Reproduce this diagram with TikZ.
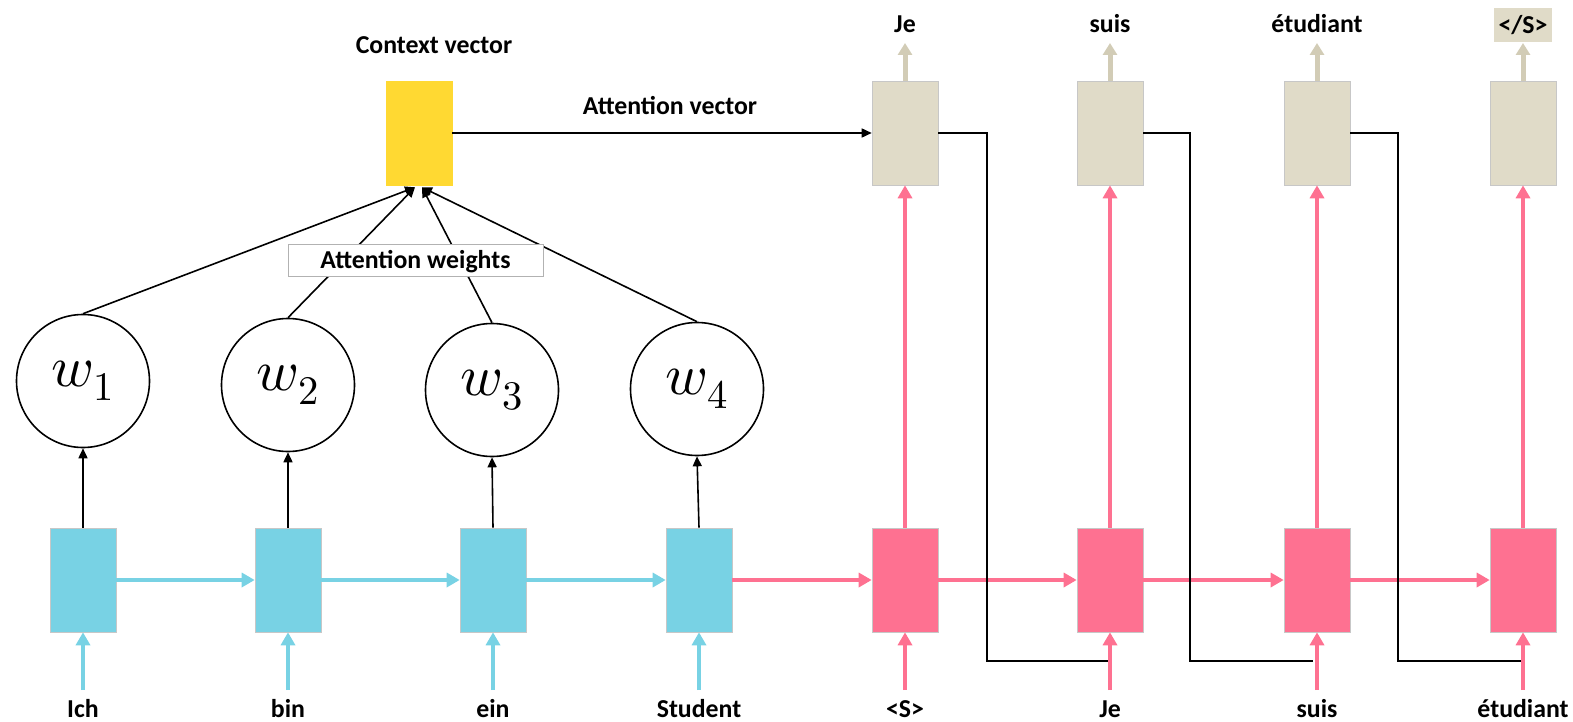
\documentclass[tikz,border=0pt]{standalone}
\usepackage{fontspec}
\usepackage{unicode-math}
\setmainfont{Carlito}
\setmathfont{Latin Modern Math}
\usetikzlibrary{arrows.meta,calc}

\definecolor{enc}{HTML}{78D2E4}
\definecolor{dec}{HTML}{FE7191}
\definecolor{outc}{HTML}{E0DBC8}
\definecolor{outline}{HTML}{D2CCB6}
\definecolor{ctxc}{HTML}{FFD932}

\begin{document}
\begin{tikzpicture}[x=1pt,y=-1pt,
  cell/.style={minimum width=66pt, minimum height=104pt, inner sep=0pt,
               draw=black!22, line width=0.6pt},
  enccell/.style={cell, fill=enc},
  deccell/.style={cell, fill=dec},
  outcell/.style={cell, fill=outc},
  ctxcell/.style={cell, fill=ctxc, draw=ctxc},
  lbl/.style={font=\fontsize{25.8}{30}\selectfont\bfseries, inner sep=0pt, anchor=base},
  wnode/.style={circle, draw, line width=1.6pt, minimum size=133pt, inner sep=0pt,
                font=\fontsize{58}{62}\selectfont},
  blackarrow/.style={line width=1.6pt, -{Triangle[length=10pt,width=9pt]}},
  feedback/.style={line width=1.6pt},
  encflow/.style={enc, line width=4.4pt, -{Triangle[length=13pt,width=14pt]}},
  decflow/.style={dec, line width=4.4pt, -{Triangle[length=13pt,width=14pt]}},
  outflow/.style={outline, line width=5pt, -{Triangle[length=12pt,width=14pt]}}
]
\useasboundingbox (0,0) rectangle (1573,722);

% encoder cells
\node[enccell] (e1) at (83,580) {};
\node[enccell] (e2) at (288,580) {};
\node[enccell] (e3) at (493,580) {};
\node[enccell] (e4) at (699,580) {};

% decoder cells
\node[deccell] (d1) at (905,580) {};
\node[deccell] (d2) at (1110,580) {};
\node[deccell] (d3) at (1317,580) {};
\node[deccell] (d4) at (1523,580) {};

% output cells
\node[outcell] (o1) at (905,133) {};
\node[outcell] (o2) at (1110,133) {};
\node[outcell] (o3) at (1317,133) {};
\node[outcell] (o4) at (1523,133) {};

% context vector
\node[ctxcell] (ctx) at (419,133) {};
\node[lbl] (ctxlbl) at (434,54) {Context vector};
\node[lbl] (attvec) at (670,115) {Attention vector};

% attention weights
\node[wnode] (w1) at (83,381) {$w_1$};
\node[wnode] (w2) at (288,385) {$w_2$};
\node[wnode] (w3) at (492,390) {$w_3$};
\node[wnode] (w4) at (697,389) {$w_4$};

% input words
\node[lbl] (i1) at (83,717) {Ich};
\node[lbl] (i2) at (288,717) {bin};
\node[lbl] (i3) at (493,717) {ein};
\node[lbl] (i4) at (699,717) {Student};
\node[lbl] (i5) at (905,717) {<S>};
\node[lbl] (i6) at (1110,717) {Je};
\node[lbl] (i7) at (1317,717) {suis};
\node[lbl] (i8) at (1523,717) {étudiant};

% output words
\node[lbl] (t1) at (905,33) {Je};
\node[lbl] (t2) at (1110,33) {suis};
\node[lbl] (t3) at (1317,33) {étudiant};
\node[fill=outc, minimum width=58pt, minimum height=34pt, inner sep=0pt,
      font=\fontsize{25.8}{30}\selectfont\bfseries] (t4) at (1523,25) {</S>};

% input arrow tails
\coordinate (a1) at (83,690);
\coordinate (a2) at (288,690);
\coordinate (a3) at (493,690);
\coordinate (a4) at (699,690);
\coordinate (a5) at (905,690);
\coordinate (a6) at (1110,690);
\coordinate (a7) at (1317,690);
\coordinate (a8) at (1523,690);

% output arrow tips
\coordinate (u1) at (905,43);
\coordinate (u2) at (1110,43);
\coordinate (u3) at (1317,43);
\coordinate (u4) at (1523,43);

% encoder inputs and recurrence
\foreach \i in {1,2,3,4} \draw[encflow] (a\i) -- (e\i.south);
\draw[encflow] (e1.east) -- (e2.west);
\draw[encflow] (e2.east) -- (e3.west);
\draw[encflow] (e3.east) -- (e4.west);

% decoder inputs, recurrence and outputs
\foreach \i in {5,6,7,8} {
  \pgfmathtruncatemacro{\j}{\i-4}
  \draw[decflow] (a\i) -- (d\j.south);
}
\draw[decflow] (e4.east) -- (d1.west);
\draw[decflow] (d1.east) -- (d2.west);
\draw[decflow] (d2.east) -- (d3.west);
\draw[decflow] (d3.east) -- (d4.west);
\foreach \i in {1,2,3,4} {
  \draw[decflow] (d\i.north) -- (o\i.south);
  \draw[outflow] (o\i.north) -- (u\i);
}

% encoder states to weights
\foreach \i in {1,2,3,4} \draw[blackarrow] (e\i.north) -- (w\i.south);

% weights to context vector
\coordinate (cl) at ($(ctx.south)+(-4,2)$);
\coordinate (cr) at ($(ctx.south)+(3,2)$);
\draw[blackarrow] (w1.north) -- (cl);
\draw[blackarrow] (w2.north) -- (cl);
\draw[blackarrow] (w3.north) -- (cr);
\draw[blackarrow] (w4.north) -- (cr);
\node[draw=black!30, fill=white, line width=0.8pt, minimum width=255pt,
      minimum height=32pt, inner sep=0pt] (attw) at (415.5,260) {};
\node[lbl] (attwlbl) at (415.5,268) {Attention weights};

% attention vector into the first decoder output
\draw[blackarrow] (ctx.east) -- (o1.west);

% feedback of each output word into the next decoder input
\coordinate (f1) at (987,661);  \coordinate (g1) at (1108,661);
\coordinate (f2) at (1190,661); \coordinate (g2) at (1313,661);
\coordinate (f3) at (1398,661); \coordinate (g3) at (1521,661);
\draw[feedback] (o1.east) -| (f1) -- (g1);
\draw[feedback] (o2.east) -| (f2) -- (g2);
\draw[feedback] (o3.east) -| (f3) -- (g3);
\end{tikzpicture}
\end{document}
